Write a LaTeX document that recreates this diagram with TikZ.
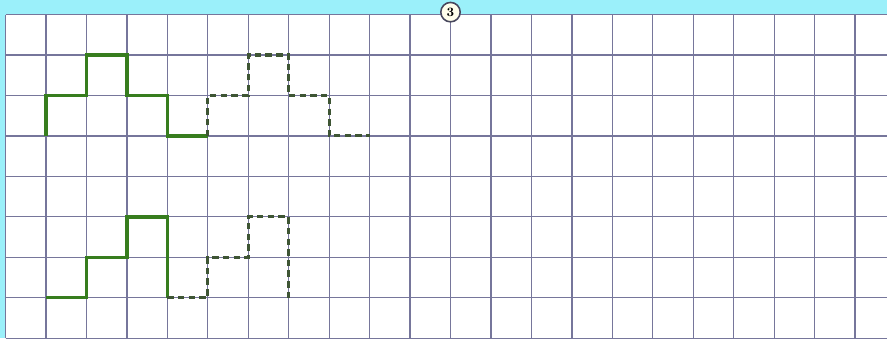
\documentclass[tikz,border=0pt]{standalone}
\usepackage{tikz}
\usetikzlibrary{positioning}
\definecolor{paper}{RGB}{155,240,250}
\definecolor{gridline}{RGB}{118,118,155}
\definecolor{stepgreen}{RGB}{55,125,30}
\definecolor{dashgreen}{RGB}{62,85,52}
\begin{document}
\begin{tikzpicture}[x=1cm, y=1cm,
    cell/.style={draw=gridline, line width=0.9pt},
    solidpath/.style={draw=stepgreen, line width=2.4pt},
    dashpath/.style={draw=dashgreen, line width=2.2pt, dash pattern=on 4.5pt off 3pt}]
    \useasboundingbox (-0.136,0) rectangle (21.79,8.36);
    \fill[paper] (-0.136,0) rectangle (21.79,8.36);
    \fill[white] (0,0) rectangle (21.79,8);

    % squared paper
    \foreach \i in {0,...,21}
        \draw[cell] (\i,0) -- (\i,8);
    \foreach \j in {0,...,8}
        \draw[cell] (0,\j) -- (21.79,\j);

    % upper row of steps
    \draw[solidpath] (1,5) -- (1,6) -- (2,6) -- (2,7) -- (3,7) -- (3,6) -- (4,6) -- (4,5) -- (5,5);
    \draw[dashpath] (5,5) -- (5,6) -- (6,6) -- (6,7) -- (7,7) -- (7,6) -- (8,6) -- (8,5) -- (9,5);

    % lower row of steps
    \draw[solidpath] (1,1) -- (2,1) -- (2,2) -- (3,2) -- (3,3) -- (4,3) -- (4,1);
    \draw[dashpath] (4,1) -- (5,1) -- (5,2) -- (6,2) -- (6,3) -- (7,3) -- (7,1);

    \node[circle, draw=gridline!60!black, line width=1.1pt, fill=white!92!yellow,
          inner sep=0pt, minimum size=0.48cm, font=\small\bfseries] (num) at (11,8.06) {3};
\end{tikzpicture}
\end{document}
